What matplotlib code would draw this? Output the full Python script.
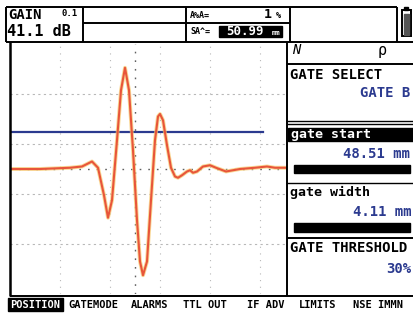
import matplotlib
matplotlib.use("Agg")
import matplotlib.pyplot as plt
from matplotlib.patches import Rectangle

# A-scan trace (x in divisions, amplitude in % of half screen)
trace_x = [0.0, 0.6, 1.2, 1.44, 1.64, 1.76, 1.88, 1.96, 2.04, 2.14, 2.22, 2.30, 2.38,
           2.46, 2.54, 2.60, 2.66, 2.74, 2.82, 2.90, 2.96, 3.00, 3.06, 3.14, 3.22,
           3.30, 3.36, 3.44, 3.54, 3.60, 3.66, 3.74, 3.86, 4.00, 4.12, 4.32, 4.60,
           4.90, 5.14, 5.30, 5.54]
trace_y = [0, 0, 1, 2, 6, 1, -21, -39, -25, 23, 63, 81, 63,
           15, -41, -74, -85, -74, -25, 23, 42, 44, 39, 19, 1,
           -6, -7, -5, -2, -1, -3, -2, 2, 3, 1, -2, 0,
           1, 2, 1, 1]

gate_level = 30
gate_end = 5.06

header_gain = "41.1 dB"
gain_step = "0.1"
amp_ratio = "1"
sound_path = "50.99"
menu_items = ["POSITION", "GATEMODE", "ALARMS", "TTL OUT", "IF ADV", "LIMITS", "NSE IMMN"]
menu_x = [35, 93, 150, 205, 266, 318, 378]

W, H = 414, 315
fig = plt.figure(figsize=(W / 100, H / 100), dpi=100)
fig.patch.set_facecolor("white")

# scope area: px 10..287 horizontally, 44..294 vertically
ax = fig.add_axes([10 / W, (H - 294) / H, 277 / W, 250 / H])
ax.set_xlim(0, 5.54)
ax.set_ylim(-100, 100)
ax.set_xticks([])
ax.set_yticks([])
for s in ax.spines.values():
    s.set_visible(False)

for gx in [1, 2, 3, 4, 5]:
    ax.axvline(gx, color="#b8b8b8", lw=0.8, ls=(0, (1, 5)))
for gy in [-60, -20, 20, 60]:
    ax.axhline(gy, color="#b8b8b8", lw=0.8, ls=(0, (2, 3)))
ax.axvline(2.5, color="#606060", lw=1.0, ls=(0, (1.2, 5)))
ax.axhline(0, color="#606060", lw=1.0, ls=(0, (1.2, 5)))

ax.plot([0, gate_end], [gate_level, gate_level], color="#2b3a8f", lw=1.6)
ax.plot(trace_x, trace_y, color="#f7c86a", lw=2.8, alpha=0.7)
ax.plot(trace_x, trace_y, color="#e8553a", lw=1.5)

# overlay in pixel coords for frame, header, side panel and menu
ov = fig.add_axes([0, 0, 1, 1], zorder=3)
ov.set_xlim(0, W)
ov.set_ylim(H, 0)
ov.axis("off")
ov.patch.set_alpha(0)

k = "black"
mono = "DejaVu Sans Mono"


def line(x0, y0, x1, y1, lw=1.4):
    ov.plot([x0, x1], [y0, y1], color=k, lw=lw, solid_capstyle="butt")


# header boxes
line(6, 7, 397, 7)
line(6, 42, 414, 42)
for xv in [6, 83, 186, 290, 397]:
    line(xv, 7, xv, 42)
line(83, 23, 290, 23)
line(10, 42, 10, 296, lw=1.8)
line(287, 42, 287, 296)
line(10, 296, 414, 296)

ov.text(8, 15, "GAIN", fontsize=10, family=mono, weight="bold", va="center")
ov.text(62, 14, gain_step, fontsize=6.5, family=mono, weight="bold", va="center")
ov.text(7, 31, header_gain, fontsize=11, family=mono, weight="bold", va="center")
ov.text(190, 15, "A%A=", fontsize=6, family=mono, weight="bold", va="center")
ov.text(272, 15, amp_ratio, fontsize=9.5, family=mono, weight="bold", va="center", ha="right")
ov.text(276, 16, "%", fontsize=6, family=mono, weight="bold", va="center")
ov.text(190, 32, "SA^=", fontsize=6, family=mono, weight="bold", va="center")
ov.add_patch(Rectangle((219, 26), 63, 11, color=k))
ov.text(226, 31.5, sound_path, fontsize=9, family=mono, weight="bold", va="center", color="white")
ov.text(272, 33, "mm", fontsize=5, family=mono, weight="bold", va="center", color="white")

# battery icon
ov.add_patch(Rectangle((402, 10), 9, 26, fill=False, ec=k, lw=1.4))
ov.add_patch(Rectangle((404, 14), 5, 21, color="#555555"))
ov.add_patch(Rectangle((404.5, 7), 4, 3, color=k))

# right panel
ov.text(292, 50, "N", fontsize=10, family=mono, style="italic", va="center")
ov.text(378, 51, "\u03c1", fontsize=11, family=mono, va="center")
line(287, 64, 414, 64)
ov.text(290, 75, "GATE SELECT", fontsize=10, family=mono, weight="bold", va="center")
ov.text(360, 93, "GATE B", fontsize=10, family=mono, weight="bold", va="center", color="#2b3a8f")
line(287, 121, 414, 121, lw=1.0)
line(287, 124, 414, 124, lw=1.0)
ov.add_patch(Rectangle((288, 128), 126, 13, color=k))
ov.text(291, 134.5, "gate start", fontsize=9.5, family=mono, weight="bold", va="center", color="white")
ov.text(343, 154, "48.51 mm", fontsize=10, family=mono, weight="bold", va="center", color="#2b3a8f")
ov.add_patch(Rectangle((294, 165), 116, 8, color=k))
line(287, 183, 414, 183, lw=1.0)
ov.text(290, 192, "gate width", fontsize=9.5, family=mono, weight="bold", va="center")
ov.text(353, 212, "4.11 mm", fontsize=10, family=mono, weight="bold", va="center", color="#2b3a8f")
ov.add_patch(Rectangle((294, 223), 116, 9, color=k))
line(287, 238, 414, 238)
ov.text(290, 248, "GATE THRESHOLD", fontsize=10, family=mono, weight="bold", va="center")
ov.text(386, 269, "30%", fontsize=10, family=mono, weight="bold", va="center", color="#2b3a8f")

# menu bar
ov.add_patch(Rectangle((8, 298), 55, 13, color=k))
for i, (name, mx) in enumerate(zip(menu_items, menu_x)):
    ov.text(mx, 304.5, name, fontsize=7.5, family=mono, weight="bold", ha="center", va="center",
            color="white" if i == 0 else k)

fig.savefig("out.png", dpi=100)
